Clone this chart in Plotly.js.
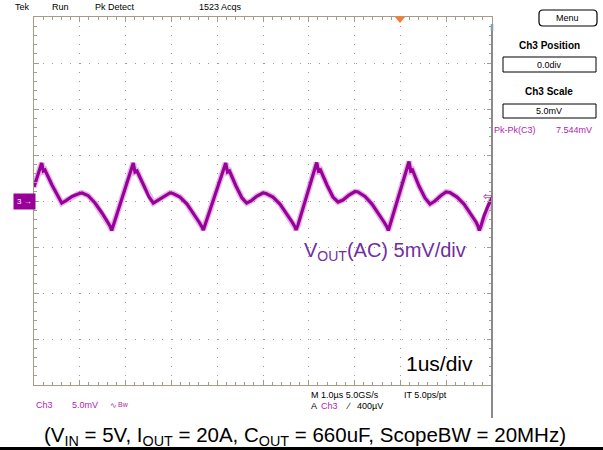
<!DOCTYPE html>
<html>
<head>
<meta charset="utf-8">
<script src="https://cdn.plot.ly/plotly-3.0.1.min.js"></script>
<style>
  html, body { margin: 0; padding: 0; background: #fff; }
  #scope { width: 603px; height: 450px; }
</style>
</head>
<body>
<div id="scope"></div>
<script>
// Ch3 output ripple, time in µs (10 div x 1 µs), voltage in mV (8 div x 5 mV)
const timeUs = [
  -5.000, -4.934, -4.832, -4.797, -4.760, -4.607, -4.476, -4.395, -4.301, -4.170,
  -4.039, -3.952, -3.821, -3.668, -3.515, -3.406, -3.341, -3.303, -3.264, -3.122,
  -2.969, -2.832, -2.795, -2.751, -2.598, -2.489, -2.395, -2.293, -2.162, -2.031,
  -1.965, -1.812, -1.659, -1.507, -1.397, -1.332, -1.303, -1.266, -1.114, -0.961,
  -0.814, -0.775, -0.731, -0.590, -0.459, -0.356, -0.262, -0.131, 0.000, 0.066,
  0.218, 0.371, 0.524, 0.633, 0.699, 0.721, 0.764, 0.895, 1.048, 1.172,
  1.212, 1.255, 1.397, 1.528, 1.638, 1.747, 1.878, 2.009, 2.074, 2.227,
  2.380, 2.533, 2.642, 2.707, 2.736, 2.773, 2.904, 3.057, 3.188, 3.225,
  3.264, 3.406, 3.537, 3.646, 3.755, 3.886, 3.996, 4.083, 4.236, 4.389,
  4.541, 4.651, 4.694, 4.723, 4.760, 4.825, 4.913, 5.000
];
const ch3mV = [
  1.52, 2.50, 4.13, 3.26, 3.37, 1.74, 0.43, -0.22, 0.05, 0.49,
  0.76, 0.87, 0.60, -0.22, -1.30, -2.17, -2.72, -3.21, -2.61, -0.43,
  1.85, 4.13, 3.15, 3.26, 1.63, 0.43, -0.22, 0.11, 0.54, 0.87,
  0.82, 0.43, -0.33, -1.41, -2.28, -2.83, -3.15, -2.61, -0.33, 1.96,
  4.13, 3.15, 3.26, 1.63, 0.33, -0.22, 0.00, 0.54, 0.87, 0.82,
  0.43, -0.33, -1.41, -2.28, -2.83, -3.15, -2.61, -0.43, 1.96, 4.18,
  3.26, 3.37, 1.74, 0.43, -0.11, 0.11, 0.65, 1.03, 0.98, 0.49,
  -0.33, -1.41, -2.28, -2.83, -3.21, -2.61, -0.43, 1.96, 4.29, 3.26,
  3.37, 1.63, 0.33, -0.33, 0.00, 0.60, 0.98, 0.92, 0.43, -0.33,
  -1.41, -2.28, -2.72, -3.21, -2.72, -1.63, -0.54, 0.33
];

// Screen readouts
const statusItems = ["Tek", "Run", "Pk Detect", "1523 Acqs"];
const positionLabel = "Ch3 Position";
const positionValue = "0.0div";
const scaleLabel = "Ch3 Scale";
const scaleValue = "5.0mV";
const measName = "Pk-Pk(C3)";
const measValue = "7.544mV";
const traceLabel = "V<sub>OUT</sub>(AC) 5mV/div";
const timebaseLabel = "1us/div";
const caption = "(V<sub>IN</sub> = 5V, I<sub>OUT</sub> = 20A, C<sub>OUT</sub> = 660uF, ScopeBW = 20MHz)";

// page geometry of the graticule
const L = 34, R = 492, T = 17, B = 385;
const px = x => (x - L) / (R - L);
const py = y => (B - y) / (B - T);

const FRAME = '#a29c88';
const TRACE = '#990099';
const MAG = '#b01cb0';
const SCOPE_FONT = 'Liberation Sans, Arial, sans-serif';
const LABEL_FONT = 'Liberation Sans, Arial, sans-serif';
// graticule dots: five per division
const DOTS = '1px,8px,1px,8px,1px,8px,1px,8px,1px,9px';

function txt(text, x, y, opts) {
  return Object.assign({
    text: text, xref: 'paper', yref: 'paper', x: px(x), y: py(y),
    xanchor: 'left', yanchor: 'middle', showarrow: false,
    font: { family: SCOPE_FONT, size: 9, color: '#000' }
  }, opts || {});
}

const annotations = [
  txt(statusItems[0], 13, 7),
  txt(statusItems[1], 50, 7),
  txt(statusItems[2], 93, 7),
  txt(statusItems[3], 197, 7),
  txt('Menu', 567, 18, { xanchor: 'center', font: { family: SCOPE_FONT, size: 9, color: '#000' } }),
  txt('<b>' + positionLabel + '</b>', 549, 45, { xanchor: 'center', font: { family: SCOPE_FONT, size: 10, color: '#000' } }),
  txt(positionValue, 549, 65, { xanchor: 'center', font: { family: SCOPE_FONT, size: 9, color: '#000' } }),
  txt('<b>' + scaleLabel + '</b>', 549, 92, { xanchor: 'center', font: { family: SCOPE_FONT, size: 10, color: '#000' } }),
  txt(scaleValue, 549, 111, { xanchor: 'center', font: { family: SCOPE_FONT, size: 9, color: '#000' } }),
  txt(measName, 492, 130, { font: { family: SCOPE_FONT, size: 9, color: MAG } }),
  txt(measValue, 554, 130, { font: { family: SCOPE_FONT, size: 9, color: MAG } }),
  // channel ground marker
  txt('3 \u2192', 13, 201, { bgcolor: TRACE, borderpad: 3, font: { family: SCOPE_FONT, size: 8, color: '#fff' } }),
  // trigger level marker
  txt('\u21E6', 487, 197, { xanchor: 'center', font: { family: 'DejaVu Sans', size: 11, color: TRACE } }),
  // bottom readouts
  txt('Ch3', 34, 405, { font: { family: SCOPE_FONT, size: 9, color: MAG } }),
  txt('5.0mV', 70, 405, { font: { family: SCOPE_FONT, size: 9, color: MAG } }),
  txt('\u223F', 108, 405, { font: { family: 'DejaVu Sans', size: 8, color: MAG } }),
  txt('Bw', 116, 404, { font: { family: SCOPE_FONT, size: 7, color: MAG } }),
  txt('M 1.0\u00B5s 5.0GS/s', 309, 395),
  txt('IT 5.0ps/pt', 402, 395),
  txt('A', 309, 406),
  txt('Ch3', 319, 406, { font: { family: SCOPE_FONT, size: 9, color: MAG } }),
  txt('\u2215', 344, 406),
  txt('400\u00B5V', 355, 406),
  // plot labels
  txt(traceLabel, 302, 251, { font: { family: LABEL_FONT, size: 20, color: '#7030a0' } }),
  txt(timebaseLabel, 404, 363, { font: { family: LABEL_FONT, size: 21, color: '#000' } }),
  txt(caption, 305, 436, { xanchor: 'center', font: { family: LABEL_FONT, size: 20.5, color: '#000' } })
];

// rounded "Menu" button outline
function roundRect(x0, y0, x1, y1, r) {
  const X = v => px(v), Y = v => py(v);
  return 'M' + X(x0 + r) + ',' + Y(y0) +
    ' L' + X(x1 - r) + ',' + Y(y0) +
    ' Q' + X(x1) + ',' + Y(y0) + ' ' + X(x1) + ',' + Y(y0 + r) +
    ' L' + X(x1) + ',' + Y(y1 - r) +
    ' Q' + X(x1) + ',' + Y(y1) + ' ' + X(x1 - r) + ',' + Y(y1) +
    ' L' + X(x0 + r) + ',' + Y(y1) +
    ' Q' + X(x0) + ',' + Y(y1) + ' ' + X(x0) + ',' + Y(y1 - r) +
    ' L' + X(x0) + ',' + Y(y0 + r) +
    ' Q' + X(x0) + ',' + Y(y0) + ' ' + X(x0 + r) + ',' + Y(y0) + ' Z';
}

const shapes = [
  { type: 'path', xref: 'paper', yref: 'paper', path: roundRect(539, 10, 597, 26, 4), line: { color: '#000', width: 1.2 } },
  { type: 'rect', xref: 'paper', yref: 'paper', x0: px(503), x1: px(596), y0: py(57), y1: py(72), line: { color: '#000', width: 1 } },
  { type: 'rect', xref: 'paper', yref: 'paper', x0: px(503), x1: px(596), y0: py(104), y1: py(118), line: { color: '#000', width: 1 } },
  // trigger position marker
  { type: 'path', xref: 'paper', yref: 'paper',
    path: 'M' + px(395) + ',' + py(17) + ' L' + px(405) + ',' + py(17) + ' L' + px(400) + ',' + py(23) + ' Z',
    fillcolor: '#ff7a22', line: { color: '#ff7a22', width: 0 } },
  // right bezel edge
  { type: 'line', xref: 'paper', yref: 'paper', x0: px(492), x1: px(492), y0: py(24), y1: py(418), line: { color: '#8a8a8a', width: 2 } },
  { type: 'line', xref: 'paper', yref: 'paper', x0: px(492), x1: px(492), y0: py(24), y1: py(31), line: { color: '#7f9fb5', width: 2.5 } },
  // bottom edge of the page
  { type: 'line', xref: 'paper', yref: 'paper', x0: px(0), x1: px(603), y0: py(448.5), y1: py(448.5), line: { color: '#000', width: 3 } }
];

const axisCommon = {
  showticklabels: false, zeroline: false,
  showline: true, linecolor: FRAME, linewidth: 1.3, mirror: 'allticks',
  ticks: 'inside', ticklen: 5, tickcolor: FRAME, tickwidth: 1,
  showgrid: true, gridcolor: '#9a9a9a', gridwidth: 1, griddash: DOTS,
  fixedrange: true
};

const layout = {
  width: 603, height: 450,
  margin: { l: L, r: 603 - R, t: T, b: 450 - B, pad: 0 },
  paper_bgcolor: '#fff', plot_bgcolor: '#fff',
  showlegend: false,
  xaxis: Object.assign({}, axisCommon, {
    range: [-5, 5], tick0: 0, dtick: 1,
    minor: { dtick: 0.2, ticks: 'inside', ticklen: 3, tickcolor: FRAME, showgrid: false }
  }),
  yaxis: Object.assign({}, axisCommon, {
    range: [-20, 20], tick0: 0, dtick: 5,
    minor: { dtick: 1, ticks: 'inside', ticklen: 3, tickcolor: FRAME, showgrid: false }
  }),
  annotations: annotations,
  shapes: shapes
};

const traces = [
  { x: timeUs, y: ch3mV, mode: 'lines', hoverinfo: 'skip',
    line: { color: 'rgba(165,20,165,0.3)', width: 6 } },
  { x: timeUs, y: ch3mV, mode: 'lines', hoverinfo: 'skip',
    line: { color: TRACE, width: 3.2 } }
];

Plotly.newPlot('scope', traces, layout, { staticPlot: true, displayModeBar: false });
</script>
</body>
</html>
